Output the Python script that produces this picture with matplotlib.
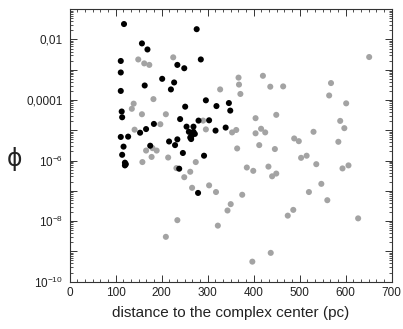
import numpy as np
import matplotlib
matplotlib.use("Agg")
import matplotlib.pyplot as plt
from matplotlib.ticker import LogLocator, FuncFormatter, MultipleLocator, NullFormatter

plt.rcParams['font.family'] = ['Liberation Sans', 'DejaVu Sans']
plt.rcParams['mathtext.default'] = 'regular'

# black series: distance (pc), log10(phi)
black_dist = [118, 276, 157, 169, 111, 285, 234, 249, 111, 201, 227, 163, 220, 111,
              296, 346, 319, 251, 349, 113, 114, 240, 280, 303, 183, 166, 254, 269,
              339, 259, 269, 317, 265, 272, 264, 111, 127, 153, 234, 216, 175, 117,
              229, 246, 114, 292, 120, 122, 120, 238, 279, 262]
black_log10phi = [-1.49, -1.66, -2.13, -2.33, -2.71, -2.66, -2.84, -2.95, -3.09, -3.30,
                  -3.42, -3.52, -3.65, -3.70, -4.01, -4.10, -4.20, -4.22, -4.35, -4.38,
                  -4.57, -4.63, -4.68, -4.67, -4.79, -4.96, -4.88, -4.88, -4.91, -5.05,
                  -5.05, -5.01, -5.18, -5.12, -5.29, -5.22, -5.21, -5.08, -5.30, -5.37,
                  -5.51, -5.54, -5.49, -5.75, -5.81, -5.84, -6.07, -6.12, -6.16, -6.27,
                  -7.07, -5.24]

# gray series
gray_dist = [651, 149, 162, 173, 225, 367, 420, 368, 327, 436, 464, 568, 371, 564, 182,
             139, 135, 601, 157, 209, 449, 404, 588, 197, 290, 597, 141, 296, 353, 362,
             416, 425, 404, 530, 488, 498, 584, 412, 364, 446, 166, 180, 189, 178, 214,
             515, 503, 158, 274, 536, 432, 385, 606, 593, 399, 232, 262, 449, 440, 249,
             547, 303, 266, 318, 520, 375, 560, 350, 343, 486, 474, 627, 234, 322, 209,
             437, 397]
gray_log10phi = [-2.58, -2.66, -2.79, -2.84, -2.59, -3.26, -3.20, -3.49, -3.65, -3.56,
                 -3.55, -3.44, -3.80, -3.85, -3.97, -4.12, -4.29, -4.11, -4.47, -4.47,
                 -4.49, -4.60, -4.69, -4.80, -4.68, -4.93, -4.98, -4.97, -5.07, -4.99,
                 -4.95, -5.07, -5.10, -5.05, -5.27, -5.36, -5.38, -5.49, -5.60, -5.62,
                 -5.67, -5.59, -5.67, -5.88, -5.90, -5.84, -5.91, -6.05, -6.05, -6.12,
                 -6.20, -6.23, -6.16, -6.26, -6.34, -6.25, -6.37, -6.43, -6.52, -6.55,
                 -6.77, -6.82, -6.90, -7.04, -7.04, -7.13, -7.31, -7.44, -7.65, -7.63,
                 -7.82, -7.91, -7.97, -8.15, -8.52, -9.05, -9.34]

ytick_labels = {-2: "0,01", -4: "0,0001", -6: "$10^{-6}$", -8: "$10^{-8}$", -10: "$10^{-10}$"}

fig = plt.figure(figsize=(4.03, 3.29), dpi=100)
ax = fig.add_axes([0.173, 0.144, 0.799, 0.828])

ax.scatter(gray_dist, np.power(10.0, gray_log10phi), s=19, c='#a3a3a3', edgecolors='none', zorder=2)
ax.scatter(black_dist, np.power(10.0, black_log10phi), s=19, c='black', edgecolors='none', zorder=3)

ax.set_yscale('log')
ax.set_xlim(0, 700)
ax.set_ylim(1e-10, 1e-1)

ax.xaxis.set_major_locator(MultipleLocator(100))
ax.xaxis.set_minor_locator(MultipleLocator(100 / 6))
ax.yaxis.set_major_locator(LogLocator(base=10, numticks=20))
ax.yaxis.set_minor_locator(LogLocator(base=10, subs=np.arange(2, 10), numticks=20))
ax.yaxis.set_minor_formatter(NullFormatter())

def yfmt(v, pos):
    e = int(round(np.log10(v)))
    return ytick_labels.get(e, "")

ax.yaxis.set_major_formatter(FuncFormatter(yfmt))

ax.tick_params(which='both', direction='in', top=True, right=True, colors='#333333',
               labelcolor='#222222', labelsize=8.5)
ax.tick_params(which='major', length=5, width=0.7)
ax.tick_params(which='minor', length=2.5, width=0.6)
ax.tick_params(axis='x', pad=4)
ax.tick_params(axis='y', pad=5)

for sp in ax.spines.values():
    sp.set_linewidth(0.8)
    sp.set_color('#333333')

ax.set_xlabel("distance to the complex center (pc)", fontsize=11, color='#222222', labelpad=5)
ax.set_ylabel("\u03d5", fontsize=17, rotation=0, color='#222222', va='center',
              family=['DejaVu Sans'])
ax.yaxis.set_label_coords(-0.17, 0.45)

fig.savefig("out.png", dpi=100)
